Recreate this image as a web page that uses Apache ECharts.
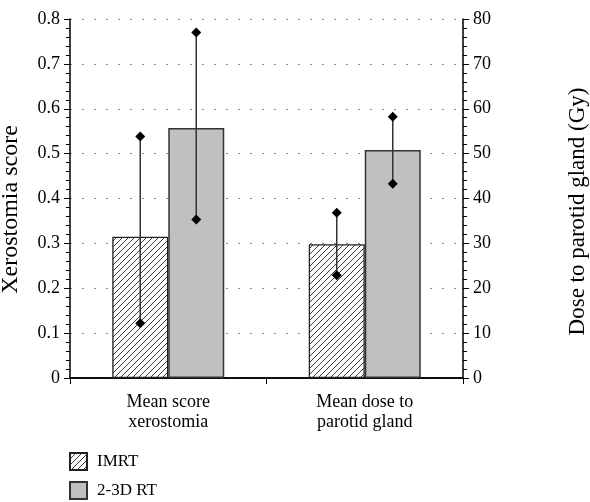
<!DOCTYPE html>
<html><head><meta charset="utf-8">
<script src="https://cdn.jsdelivr.net/npm/echarts@6/dist/echarts.min.js"></script>
<style>html,body{margin:0;padding:0;background:#fff}#c{width:590px;height:502px}</style>
</head><body><div id="c"></div>
<script>
const categories = ['Mean score\nxerostomia', 'Mean dose to\nparotid gland'];
const seriesNames = ['IMRT', '2-3D RT'];
// [xerostomia score, dose (Gy)]
const imrtMean = [0.315, 29.8];
const rtMean = [0.557, 50.8];
// [low, high] per category
const imrtRange = [[0.122, 0.538], [22.9, 36.8]];
const rtRange = [[0.353, 0.770], [43.3, 58.2]];
const scoreAxis = { min: 0, max: 0.8, step: 0.1, name: 'Xerostomia score' };
const doseAxis = { min: 0, max: 80, step: 10, name: 'Dose to parotid gland (Gy)' };

const FONT = 'Liberation Serif';
function hatch() {
  const s = 6, c = document.createElement('canvas');
  c.width = s; c.height = s;
  const g = c.getContext('2d');
  g.fillStyle = '#fff'; g.fillRect(0, 0, s, s);
  g.strokeStyle = '#222'; g.lineWidth = 0.9;
  g.beginPath();
  g.moveTo(0, s); g.lineTo(s, 0);
  g.moveTo(-1, 1); g.lineTo(1, -1);
  g.moveTo(s - 1, s + 1); g.lineTo(s + 1, s - 1);
  g.stroke();
  return c;
}
const imrtStyle = { color: { image: hatch(), repeat: 'repeat' }, borderColor: '#222', borderWidth: 1.3 };
const rtStyle = { color: '#c0c0c0', borderColor: '#333', borderWidth: 1.5 };

function only(idx, v) { return categories.map((_, i) => i === idx ? v : '-'); }
function errRender(offset) {
  return function (params, api) {
    const lo = api.coord([api.value(0), api.value(1)]);
    const hi = api.coord([api.value(0), api.value(2)]);
    const x = lo[0] + offset, d = 5;
    const dia = y => ({ type: 'polygon', shape: { points: [[x, y - d], [x + d, y], [x, y + d], [x - d, y]] }, style: { fill: '#000' } });
    return { type: 'group', children: [
      { type: 'line', shape: { x1: x, y1: lo[1], x2: x, y2: hi[1] }, style: { stroke: '#333', lineWidth: 1.5 } },
      dia(lo[1]), dia(hi[1])
    ] };
  };
}
const BW = 56;
function errSeries(name, ci, range, offset) {
  return { type: 'custom', name: name, xAxisIndex: ci, yAxisIndex: ci, z: 5, silent: true,
    renderItem: errRender(offset), encode: { x: 0, y: [1, 2] },
    data: [[ci, range[ci][0], range[ci][1]]] };
}
function yAx(a, pos, grid, nameSize, gap, shift) {
  return { type: 'value', position: pos, min: a.min, max: a.max, interval: a.step,
    name: a.name, nameLocation: 'middle', nameRotate: 90, nameGap: gap,
    nameTextStyle: { fontFamily: FONT, fontSize: nameSize, color: '#000', padding: [0, shift, 0, 0] },
    axisLine: { show: true, lineStyle: { color: '#000', width: 1.5 } },
    axisTick: { show: true, length: 6, lineStyle: { color: '#000' } },
    minorTick: { show: true, splitNumber: 5, length: 4, lineStyle: { color: '#000' } },
    axisLabel: { fontFamily: FONT, fontSize: 18, color: '#000', margin: 10 },
    splitLine: { show: grid, lineStyle: { color: '#888', type: [2, 10], width: 1 } } };
}
const chart = echarts.init(document.getElementById('c'));
chart.setOption({
  animation: false,
  grid: { left: 70, right: 127, top: 19, bottom: 124, outerBoundsMode: 'none', containLabel: false },
  legend: { data: seriesNames, orient: 'vertical', left: 69, top: 452, padding: 0, itemWidth: 17, itemHeight: 17, itemGap: 10, icon: 'rect',
    textStyle: { fontFamily: FONT, fontSize: 17, color: '#000', padding: [0, 0, 0, 5] } },
  xAxis: [
    { type: 'category', data: categories, position: 'bottom',
      axisLine: { lineStyle: { color: '#000', width: 1.5 } },
      axisTick: { show: true, length: 6, lineStyle: { color: '#000' } },
      axisLabel: { fontFamily: FONT, fontSize: 18, color: '#000', lineHeight: 20, margin: 14 } },
    { type: 'category', data: categories, position: 'top',
      axisLine: { lineStyle: { color: '#000', width: 1.5 } }, axisTick: { show: false }, axisLabel: { show: false } }
  ],
  yAxis: [yAx(scoreAxis, 'left', true, 24, 47, 22), yAx(doseAxis, 'right', false, 23, 103, 26)],
  series: [
    { type: 'bar', name: seriesNames[0], xAxisIndex: 0, yAxisIndex: 0, barWidth: BW, barGap: '0%', itemStyle: imrtStyle, data: only(0, imrtMean[0]) },
    { type: 'bar', name: seriesNames[1], xAxisIndex: 0, yAxisIndex: 0, barWidth: BW, barGap: '0%', itemStyle: rtStyle, data: only(0, rtMean[0]) },
    { type: 'bar', name: seriesNames[0], xAxisIndex: 1, yAxisIndex: 1, barWidth: BW, barGap: '0%', itemStyle: imrtStyle, data: only(1, imrtMean[1]) },
    { type: 'bar', name: seriesNames[1], xAxisIndex: 1, yAxisIndex: 1, barWidth: BW, barGap: '0%', itemStyle: rtStyle, data: only(1, rtMean[1]) },
    errSeries('e1', 0, imrtRange, -BW / 2),
    errSeries('e2', 0, rtRange, BW / 2),
    errSeries('e3', 1, imrtRange, -BW / 2),
    errSeries('e4', 1, rtRange, BW / 2)
  ]
});
</script></body></html>
